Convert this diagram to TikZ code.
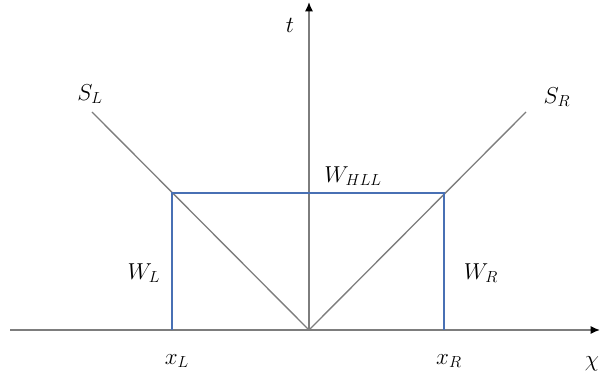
\documentclass[tikz,border=0pt]{standalone}
\usepackage{amsmath}
\usetikzlibrary{arrows.meta}
\definecolor{wblue}{RGB}{72,112,180}
\definecolor{axisgray}{RGB}{125,125,125}

\begin{document}
\begin{tikzpicture}[x=0.75pt,y=-0.75pt,
    axisline/.style={draw=axisgray,line width=1.1pt},
    waveline/.style={draw=axisgray,line width=1pt},
    stateline/.style={draw=wblue,line width=2pt},
    lbl/.style={font=\LARGE,inner sep=1pt},
    sublbl/.style={font=\LARGE,inner sep=1pt}]
    \useasboundingbox(0,0)rectangle(600,374);
    \coordinate(O)at(309,330);
    \coordinate(X0)at(10,330);
    \coordinate(X1)at(600,330);
    \coordinate(T1)at(309,2);
    \coordinate(SL)at(92,112);
    \coordinate(SR)at(526,112);
    \coordinate(A0)at(172,330);
    \coordinate(A1)at(172,193);
    \coordinate(B0)at(444,330);
    \coordinate(B1)at(444,193);
    \draw[axisline,-{Latex[color=black,length=7pt,width=6pt]}](X0)--(X1);
    \draw[axisline,-{Latex[color=black,length=7pt,width=6pt]}](O)--(T1);
    \draw[waveline](O)--(SL);
    \draw[waveline](O)--(SR);
    \draw[stateline](A0)--(A1)--(B1)--(B0);
    \node[lbl](t)at(290,25){$t$};
    \node[lbl](sl)at(90,94){$S_L$};
    \node[lbl](sr)at(557,97){$S_R$};
    \node[lbl](whll)at(353,176){$W_{HLL}$};
    \node[lbl](wl)at(144,273){$W_L$};
    \node[lbl](wr)at(481,273){$W_R$};
    \node[sublbl](xl)at(177,361){$x_L$};
    \node[sublbl](xr)at(449,361){$x_R$};
    \node[lbl](chi)at(592,364){$\chi$};
\end{tikzpicture}
\end{document}
